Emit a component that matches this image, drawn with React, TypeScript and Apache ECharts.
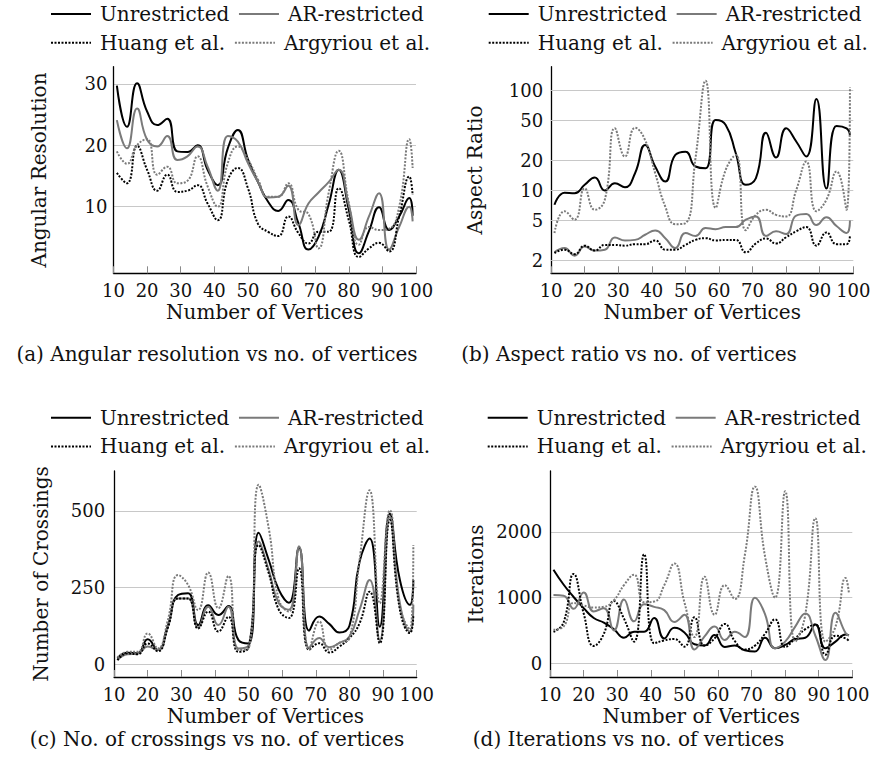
import React, { useEffect, useRef } from 'react';
import * as echarts from 'echarts';

// Graph sizes (number of vertices) at which every drawing algorithm was evaluated
const vertices = [11, 14, 17, 20, 23, 26, 29, 32, 35, 38, 41, 44, 47, 50, 53, 56, 59, 62, 65, 68, 71, 74, 77, 80, 83, 86, 89, 92, 95, 98, 99];

const seriesNames = ['Unrestricted', 'AR-restricted', 'Huang et al.', 'Argyriou et al.'];
const seriesColors = ['#000000', '#7a7a7a', '#000000', '#7a7a7a'];
const seriesDotted = [false, false, true, true];

// (a) angular resolution
const angularUnrestricted = [29.7, 23.0, 30.1, 25.5, 23.3, 24.3, 19.0, 18.9, 20.0, 16.0, 13.5, 19.5, 22.5, 17.7, 14.0, 10.8, 9.3, 11.1, 7.3, 3.0, 5.1, 10.3, 16.0, 9.5, 2.4, 6.0, 9.9, 6.2, 8.4, 11.4, 8.5];
const angularAR = [24.1, 19.5, 26.0, 20.9, 19.8, 21.5, 17.6, 18.2, 19.8, 16.5, 12.6, 21.5, 20.6, 17.1, 14.0, 11.5, 11.6, 13.4, 7.0, 10.5, 12.3, 14.0, 16.0, 10.3, 4.6, 8.4, 12.2, 3.0, 6.7, 10.0, 7.6];
const angularHuang = [15.5, 13.8, 19.9, 16.0, 12.6, 15.2, 12.4, 12.6, 13.5, 10.5, 7.8, 14.3, 16.3, 13.0, 7.2, 5.9, 5.2, 8.4, 5.7, 4.0, 5.9, 5.9, 13.0, 7.8, 1.8, 3.2, 4.1, 2.7, 8.4, 14.9, 11.9];
const angularArgyriou = [19.0, 17.0, 20.0, 21.0, 15.2, 16.5, 13.8, 14.2, 18.2, 13.3, 10.0, 17.1, 19.8, 17.7, 14.4, 11.6, 11.6, 13.8, 9.5, 8.8, 3.2, 12.2, 19.1, 10.6, 3.8, 6.7, 6.2, 6.4, 10.0, 21.0, 16.3];
const angularTicks = [10, 20, 30];

// (b) aspect ratio (log scale)
const aspectUnrestricted = [7.2, 9.5, 9.4, 11.4, 13.5, 10.0, 11.8, 10.8, 14.9, 28.6, 17.4, 12.3, 22.7, 24.5, 17.4, 16.7, 50.9, 45.4, 23.6, 11.4, 13.3, 38, 21.4, 42, 31, 21.9, 82.6, 10.5, 44.4, 42, 36];
const aspectAR = [2.4, 2.65, 2.22, 2.75, 2.5, 2.55, 3.39, 3.16, 3.2, 3.6, 3.98, 3.33, 2.65, 3.75, 3.5, 4.2, 4.1, 4.3, 4.3, 5.1, 5.5, 3.5, 3.9, 3.66, 5.6, 5.8, 4.5, 5.4, 4.4, 3.75, 5.0];
const aspectHuang = [2.36, 2.55, 2.3, 2.8, 2.5, 2.85, 2.85, 2.8, 2.9, 2.9, 3.16, 2.55, 2.55, 2.85, 3.2, 3.33, 3.16, 3.2, 3.2, 2.4, 2.95, 3.3, 2.95, 3.4, 3.9, 4.3, 2.8, 3.8, 2.9, 2.9, 3.6];
const aspectArgyriou = [3.75, 6.2, 5.1, 10.5, 6.4, 8.1, 42, 21.9, 42.5, 32, 14.9, 6.9, 4.6, 4.7, 21, 126, 6.7, 16.1, 22.7, 4.0, 5.7, 6.4, 5.7, 5.5, 10.1, 19.5, 6.2, 8.1, 15.5, 6.4, 108];
const aspectTicks = [2, 5, 10, 20, 50, 100];

// (c) number of crossings
const crossingsUnrestricted = [20, 38, 36, 82, 47, 128, 226, 232, 128, 193, 161, 190, 79, 68, 429, 340, 243, 201, 380, 110, 156, 132, 104, 126, 334, 410, 123, 491, 275, 194, 275];
const crossingsAR = [14, 33, 35, 58, 47, 123, 215, 215, 120, 188, 128, 188, 52, 62, 400, 307, 199, 178, 385, 53, 86, 56, 70, 91, 178, 275, 78, 480, 199, 107, 194];
const crossingsHuang = [14, 36, 33, 68, 43, 120, 215, 215, 117, 172, 107, 155, 41, 55, 389, 297, 178, 151, 313, 48, 69, 39, 58, 86, 134, 237, 69, 470, 178, 102, 160];
const crossingsArgyriou = [22, 41, 41, 101, 52, 145, 291, 259, 177, 299, 183, 288, 47, 52, 585, 443, 210, 172, 380, 48, 140, 48, 70, 86, 340, 567, 199, 502, 188, 113, 389];
const crossingTicks = [0, 250, 500];

// (d) iterations
const iterationsUnrestricted = [1425, 1200, 1010, 840, 690, 620, 520, 390, 480, 480, 690, 380, 540, 470, 290, 270, 430, 250, 270, 200, 180, 390, 230, 280, 370, 390, 590, 230, 330, 440, 430];
const iterationsAR = [1040, 1030, 830, 1080, 790, 840, 500, 970, 640, 900, 860, 810, 630, 740, 210, 410, 560, 355, 480, 400, 1000, 750, 230, 330, 560, 760, 420, 50, 770, 460, 420];
const iterationsHuang = [480, 620, 1360, 760, 265, 450, 950, 680, 330, 1660, 305, 350, 370, 254, 700, 270, 380, 600, 340, 210, 270, 450, 670, 250, 380, 520, 590, 130, 420, 380, 340];
const iterationsArgyriou = [510, 560, 920, 880, 850, 860, 960, 1190, 1350, 930, 940, 1190, 1520, 930, 400, 1320, 740, 1190, 980, 1650, 2690, 1630, 1000, 2620, 330, 740, 2210, 330, 560, 1300, 1070];
const iterationTicks = [0, 1000, 2000];

const FONT = 'DejaVu Serif';
const TEXT = '#111111';
const GRID_LINE = '#c8c8c8';

interface Panel {
  caption: string;
  yName: string;
  values: number[][];
  log: boolean;
  yMin: number;
  yMax: number;
  yTicks: number[];
  box: { left: number; top: number; width: number; height: number };
  nameGap: number;
  labelMargin: number;
  legendLeft: number;
  legendTop: number;
  captionX: number;
  captionY: number;
}

const panels: Panel[] = [
  {
    caption: '(a) Angular resolution vs no. of vertices',
    yName: 'Angular Resolution',
    values: [angularUnrestricted, angularAR, angularHuang, angularArgyriou],
    log: false, yMin: -0.86, yMax: 32.8, yTicks: angularTicks,
    box: { left: 113.5, top: 66.7, width: 302.5, height: 206.6 },
    nameGap: 65, labelMargin: 6, legendLeft: 50, legendTop: 4, captionX: 217, captionY: 354,
  },
  {
    caption: '(b) Aspect ratio vs no. of vertices',
    yName: 'Aspect Ratio',
    values: [aspectUnrestricted, aspectAR, aspectHuang, aspectArgyriou],
    log: true, yMin: 1.48, yMax: 174, yTicks: aspectTicks,
    box: { left: 551.1, top: 66.7, width: 302.2, height: 206.6 },
    nameGap: 66, labelMargin: 8, legendLeft: 487.7, legendTop: 4, captionX: 629, captionY: 354,
  },
  {
    caption: '(c) No. of crossings vs no. of vertices',
    yName: 'Number of Crossings',
    values: [crossingsUnrestricted, crossingsAR, crossingsHuang, crossingsArgyriou],
    log: false, yMin: -41, yMax: 630, yTicks: crossingTicks,
    box: { left: 114.1, top: 471, width: 302.6, height: 206 },
    nameGap: 63, labelMargin: 9, legendLeft: 50, legendTop: 407.7, captionX: 217, captionY: 739,
  },
  {
    caption: '(d) Iterations vs no. of vertices',
    yName: 'Iterations',
    values: [iterationsUnrestricted, iterationsAR, iterationsHuang, iterationsArgyriou],
    log: false, yMin: -208, yMax: 2928, yTicks: iterationTicks,
    box: { left: 550.1, top: 471, width: 302.2, height: 206 },
    nameGap: 64, labelMargin: 8, legendLeft: 486.7, legendTop: 407.7, captionX: 628.5, captionY: 739,
  },
];

function buildOption() {
  const grid: any[] = [];
  const xAxis: any[] = [];
  const yAxis: any[] = [];
  const series: any[] = [];
  const legend: any[] = [];
  const graphic: any[] = [];

  panels.forEach((p, i) => {
    grid.push({ ...p.box, outerBoundsMode: 'none', containLabel: false });

    xAxis.push({
      type: 'value',
      gridIndex: i,
      min: 10,
      max: 100,
      interval: 10,
      name: 'Number of Vertices',
      nameLocation: 'middle',
      nameGap: 29,
      nameTextStyle: { fontFamily: FONT, fontSize: 20, color: TEXT },
      axisLine: { show: true, onZero: false, lineStyle: { color: '#000', width: 1.3 } },
      axisTick: { show: true, inside: true, length: 7, lineStyle: { color: '#8a8a8a', width: 1 } },
      axisLabel: { fontFamily: FONT, fontSize: 18, color: TEXT, margin: 8 },
      splitLine: { show: false },
    });

    const yBase: any = {
      gridIndex: i,
      min: p.yMin,
      max: p.yMax,
      name: p.yName,
      nameLocation: 'middle',
      nameGap: p.nameGap,
      nameTextStyle: { fontFamily: FONT, fontSize: 20, color: TEXT },
      axisLine: { show: true, onZero: false, lineStyle: { color: '#000', width: 1.3 } },
    };
    if (p.log) {
      // log axis: gridlines and labels at 2, 5, 10, 20, 50, 100 come from a markLine
      yAxis.push({
        ...yBase,
        type: 'log',
        logBase: 10,
        axisTick: { show: false },
        axisLabel: { show: false },
        splitLine: { show: false },
      });
    } else {
      yAxis.push({
        ...yBase,
        type: 'value',
        axisTick: { show: false, customValues: p.yTicks },
        axisLabel: {
          customValues: p.yTicks,
          formatter: (v: number) => String(v),
          fontFamily: FONT,
          fontSize: 18,
          color: TEXT,
          margin: p.labelMargin,
        },
        splitLine: { show: true, lineStyle: { color: GRID_LINE, width: 1.2 } },
      });
    }

    p.values.forEach((vals, k) => {
      const s: any = {
        type: 'line',
        name: seriesNames[k],
        xAxisIndex: i,
        yAxisIndex: i,
        data: vertices.map((x, j) => [x, vals[j]]),
        smooth: 0.5,
        symbol: 'none',
        showSymbol: false,
        silent: true,
        z: 2,
        emphasis: { disabled: true },
        itemStyle: { color: seriesColors[k] },
        lineStyle: {
          color: seriesColors[k],
          width: 2,
          type: seriesDotted[k] ? [2, 1.5] : 'solid',
          cap: 'butt',
        },
      };
      if (p.log && k === 0) {
        s.markLine = {
          silent: true,
          z: 1,
          symbol: ['none', 'none'],
          emphasis: { disabled: true },
          lineStyle: { color: GRID_LINE, width: 1.2, type: 'solid' },
          label: {
            position: 'start',
            distance: p.labelMargin,
            formatter: (d: any) => String(d.value),
            fontFamily: FONT,
            fontSize: 18,
            color: TEXT,
          },
          data: p.yTicks.map((v) => ({ yAxis: v })),
        };
      }
      series.push(s);
    });

    legend.push({
      left: p.legendLeft,
      top: p.legendTop,
      width: 395,
      orient: 'horizontal',
      padding: 0,
      itemGap: 8.7,
      itemWidth: 40,
      itemHeight: 14,
      selectedMode: false,
      // only the line sample is shown, the marker dot is hidden
      itemStyle: { opacity: 0 },
      data: seriesNames,
      textStyle: { fontFamily: FONT, fontSize: 20, color: TEXT, padding: [0, 0, 0, 4] },
    });

    graphic.push({
      type: 'text',
      x: p.captionX,
      y: p.captionY,
      silent: true,
      style: {
        text: p.caption,
        fontFamily: FONT,
        fontSize: 20,
        fill: TEXT,
        align: 'center',
        verticalAlign: 'middle',
      },
    });
  });

  return {
    animation: false,
    backgroundColor: '#ffffff',
    textStyle: { fontFamily: FONT },
    grid,
    xAxis,
    yAxis,
    series,
    legend,
    graphic,
  };
}

export default function App() {
  const ref = useRef<HTMLDivElement>(null);

  useEffect(() => {
    if (!ref.current) return;
    const chart = echarts.init(ref.current, undefined, { renderer: 'svg' });
    chart.setOption(buildOption());
    return () => chart.dispose();
  }, []);

  return (
    <div
      ref={ref}
      style={{ position: 'fixed', left: 0, top: 0, width: 873, height: 772, background: '#fff' }}
    />
  );
}
